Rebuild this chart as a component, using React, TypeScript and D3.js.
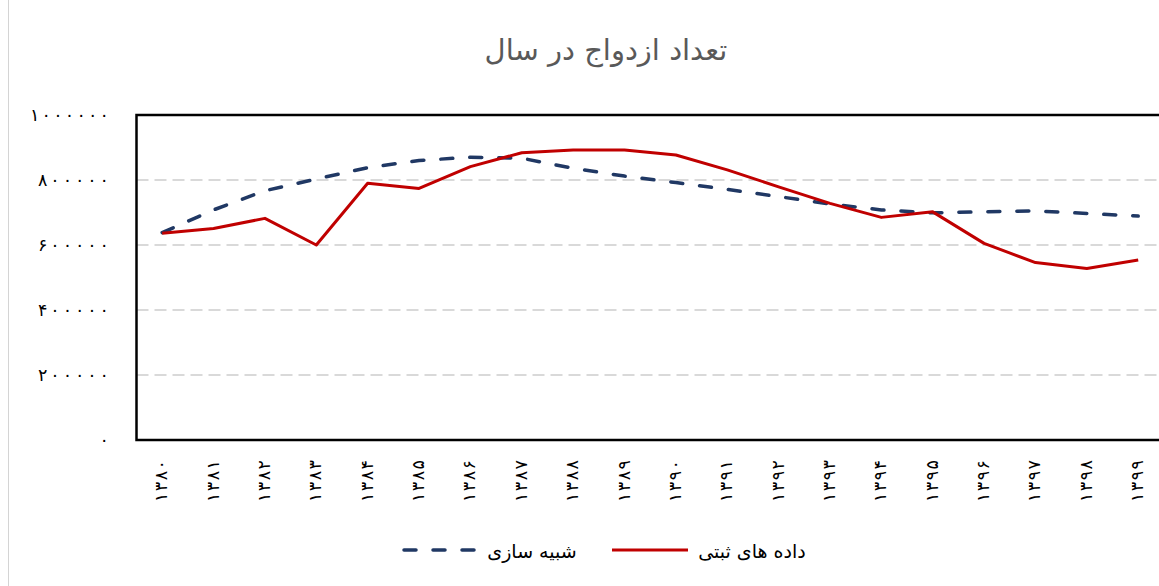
import React from "react";
import * as d3 from "d3";

const years = ["۱۳۸۰","۱۳۸۱","۱۳۸۲","۱۳۸۳","۱۳۸۴","۱۳۸۵","۱۳۸۶","۱۳۸۷","۱۳۸۸","۱۳۸۹","۱۳۹۰","۱۳۹۱","۱۳۹۲","۱۳۹۳","۱۳۹۴","۱۳۹۵","۱۳۹۶","۱۳۹۷","۱۳۹۸","۱۳۹۹"];
const recorded = [636000,651000,682000,600000,790000,774000,841000,884000,892000,892000,877000,831000,779000,728000,685000,702000,605000,546000,528000,554000];
const simulated = [638000,708000,767000,803000,838000,860000,870000,867000,836000,812000,792000,771000,749000,726000,708000,699000,702000,705000,697000,689000];
const yTicks = [0,200000,400000,600000,800000,1000000];
const title = "تعداد ازدواج در سال";
const legendSim = "شبیه سازی";
const legendRec = "داده های ثبتی";

const toFa = (s: string) => s.replace(/[0-9]/g, (d) => "۰۱۲۳۴۵۶۷۸۹"[+d]);

export default function App() {
  const W = 1159, H = 586;
  const left = 136.5, top = 115, bottom = 440;
  const band = 51.37;
  const right = left + band * years.length;
  const x = d3.scaleBand<string>().domain(years).range([left, right]);
  const xc = (c: string) => (x(c) as number) + x.bandwidth() / 2;
  const y = d3.scaleLinear().domain([0, 1000000]).range([bottom, top]);
  const line = d3.line<number>().x((_, i) => xc(years[i])).y((v) => y(v));
  const font = "DejaVu Sans, sans-serif";
  const yLen = (n: number) => (n >= 7 ? 79 : n === 6 ? 71 : undefined);
  return (
    <svg width={W} height={H} style={{ position: "absolute", left: 0, top: 0, background: "#fff" }}>
      <line x1={8.5} x2={8.5} y1={0} y2={H} stroke="#d4d4d4" strokeWidth={1} />
      <text x={606} y={60} textAnchor="middle" fontFamily={font} fontSize={29} fill="#595959" direction="rtl">{title}</text>
      {yTicks.filter((t) => t > 0 && t < 1000000).map((t) => (
        <line key={t} x1={left} x2={W} y1={y(t)} y2={y(t)} stroke="#d9d9d9" strokeWidth={2} strokeDasharray="12 6" />
      ))}
      {yTicks.map((t) => {
        const s = toFa(String(t));
        const L = yLen(s.length);
        return (
          <text key={t} x={109} y={y(t)} dy="0.35em" textAnchor="end" fontFamily={font} fontSize={17.5} fill="#000"
            {...(L ? { textLength: L, lengthAdjust: "spacing" } : {})}>{s}</text>
        );
      })}
      <path d={line(simulated) || ""} fill="none" stroke="#203864" strokeWidth={3.5} strokeDasharray="12 17" strokeLinecap="round" />
      <path d={line(recorded) || ""} fill="none" stroke="#c00000" strokeWidth={3} strokeLinejoin="round" />
      <rect x={left} y={top} width={right - left} height={bottom - top} fill="none" stroke="#000" strokeWidth={2.5} />
      {years.map((c) => (
        <text key={c} transform={`translate(${xc(c) + 5},460) rotate(-90)`} textAnchor="end" fontFamily={font} fontSize={17.5} fill="#000"
          textLength={42} lengthAdjust="spacing">{c}</text>
      ))}
      <line x1={404} x2={476} y1={550} y2={550} stroke="#203864" strokeWidth={3.5} strokeDasharray="12 17" strokeLinecap="round" />
      <text x={532} y={558} textAnchor="middle" fontFamily={font} fontSize={19} fill="#000" direction="rtl">{legendSim}</text>
      <line x1={612} x2={688} y1={550} y2={550} stroke="#c00000" strokeWidth={3} />
      <text x={752} y={558} textAnchor="middle" fontFamily={font} fontSize={19} fill="#000" direction="rtl">{legendRec}</text>
    </svg>
  );
}
